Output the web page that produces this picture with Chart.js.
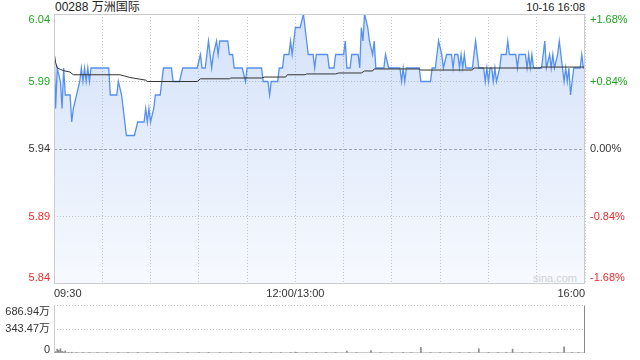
<!DOCTYPE html>
<html><head><meta charset="utf-8">
<script src="https://cdn.jsdelivr.net/npm/chart.js@4/dist/chart.umd.min.js"></script>
<style>
html,body{margin:0;padding:0;background:#fff;width:640px;height:360px;overflow:hidden;font-family:"Liberation Sans",Arial,"Noto Sans CJK SC",sans-serif;}
#title{position:absolute;left:55px;top:0px;font-size:12px;color:#222;line-height:15px;white-space:nowrap;}
#stamp{position:absolute;right:55px;top:0px;font-size:11px;color:#222;line-height:15px;white-space:nowrap;}
#mark{position:absolute;left:533px;top:271px;font-size:11px;color:#d6d6d6;line-height:14px;}
#c1{position:absolute;left:0;top:0;}
#c2{position:absolute;left:0;top:298px;}
</style></head><body>
<div id="title"></div>
<div id="stamp"></div>
<div id="mark">sina.com</div>
<canvas id="c1" width="640" height="300"></canvas>
<canvas id="c2" width="640" height="62"></canvas>
<script>
const stockName = '00288 万洲国际';
const stampText = '10-16 16:08';
const prevClose = 5.94;
const priceMin = 5.84, priceMax = 6.04;
const priceTicks = [5.84, 5.89, 5.94, 5.99, 6.04];
const priceTickLabels = ['5.84', '5.89', '5.94', '5.99', '6.04'];
const pctTickLabels = ['-1.68%', '-0.84%', '0.00%', '+0.84%', '+1.68%'];
const timeGrid = [0, 30, 60, 90, 120, 150, 180, 210, 240, 270, 300, 330];
const timeLabelMinutes = [0, 150, 330];
const timeLabels = ['09:30', '12:00/13:00', '16:00'];

// minutes since 09:30 (lunch break removed) and last price
const priceMinutes = [
  0,1,2,4,5,6,7,10,11,12,
  14,16,17,18,19,20,21,22,23,34,
  35,39,40,42,43,45,50,52,56,57,
  58,59,60,62,63,66,68,73,74,78,
  80,89,91,92,94,96,98,99,101,102,
  103,108,109,111,112,117,119,120,129,130,
  133,134,135,139,140,142,143,146,147,148,
  149,150,153,155,157,158,161,162,163,170,
  171,174,175,180,181,182,184,185,189,190,
  191,192,193,195,196,198,199,200,205,206,
  208,215,216,217,218,219,227,228,234,235,
  237,238,239,241,242,244,247,248,249,251,
  252,253,254,255,256,260,261,262,264,267,
  268,269,270,271,272,273,274,275,277,278,
  281,282,283,287,288,289,293,294,295,296,
  297,298,303,304,305,306,308,309,310,311,
  313,314,316,317,318,319,320,321,323,327,
  328,329,330];
const prices = [
  6.02,5.97,6.00,5.99,5.97,6.00,5.98,5.98,5.96,5.97,
  5.98,5.99,6.00,5.99,6.00,5.99,6.00,5.99,6.00,6.00,
  5.98,5.98,5.99,5.98,5.97,5.95,5.95,5.96,5.96,5.97,
  5.96,5.97,5.96,5.97,5.98,5.98,6.00,6.00,5.99,5.99,
  6.00,6.00,6.01,6.00,6.00,6.02,6.00,6.01,6.02,6.01,
  6.02,6.02,6.01,6.01,6.00,6.00,5.99,6.00,6.00,5.99,
  5.99,5.98,5.99,5.99,6.00,6.00,6.01,6.01,6.02,6.01,
  6.02,6.03,6.03,6.04,6.02,6.01,6.01,6.00,6.01,6.01,
  6.00,6.00,6.01,6.01,6.02,6.00,6.00,6.01,6.01,6.00,
  6.03,6.02,6.04,6.03,6.02,6.01,6.02,6.00,6.00,6.01,
  6.00,6.00,5.99,6.00,5.99,6.00,6.00,5.99,5.99,6.00,
  6.00,6.01,6.02,6.01,6.00,6.01,6.01,6.00,6.01,6.01,
  6.00,6.01,6.00,6.01,6.00,6.00,6.01,6.02,6.00,6.00,
  5.99,6.00,5.99,6.00,6.00,5.99,6.00,5.99,6.00,6.01,
  6.01,6.02,6.01,6.01,6.00,6.01,6.01,6.00,6.01,6.00,
  6.01,6.00,6.00,6.01,6.02,6.00,6.01,6.00,6.01,6.00,
  6.01,6.02,6.00,5.99,6.00,5.99,6.00,5.98,6.00,6.00,
  6.01,6.00,6.00];

const avgMinutes = [0,1,2,4,6,10,12,41,44,47,57,58,89,91,109,110,129,131,144,145,156,157,175,177,191,193,198,199,227,228,260,261,302,303,330];
const avgPrices = [6.012,6.004,6.000,5.999,5.998,5.997,5.995,5.995,5.994,5.993,5.991,5.990,5.990,5.992,5.992,5.9926,5.9926,5.9933,5.9933,5.995,5.995,5.9956,5.9956,5.9963,5.9963,5.9978,5.9978,5.9993,5.9993,5.9985,5.9985,6.000,6.000,6.0007,6.0007];

// volume in 万 shares
const volMinutes = [0,1,2,3,4,5,6,7,9,11,14,18,22,27,33,40,46,52,58,64,70,77,83,90,96,103,110,116,122,128,135,141,147,150,151,157,163,169,175,182,188,197,203,210,217,222,228,234,240,246,252,258,264,270,276,281,285,291,296,302,308,313,317,322,326,330];
const volumes = [45,20,55,40,60,25,15,30,10,12,8,10,9,8,10,9,8,10,8,9,8,10,8,9,10,8,9,8,10,9,8,10,9,12,8,10,9,8,9,28,10,35,9,8,9,8,80,9,8,10,9,8,60,9,8,10,55,9,8,10,9,8,90,9,10,45];
const volTicks = [0, 343.47, 686.94];
const volTickLabels = ['0', '343.47万', '686.94万'];
const volMax = 686.94;

document.getElementById('title').textContent = stockName;
document.getElementById('stamp').textContent = stampText;

const FONT = '"Liberation Sans", Arial, "Noto Sans CJK SC", sans-serif';
const GREEN = '#1ea51e', RED = '#ee2b2b', DARK = '#333333', GRID = '#c8c8c8';
Chart.defaults.font.family = FONT;
Chart.defaults.font.size = 11;
Chart.defaults.color = DARK;

const near = (a, b) => Math.abs(a - b) < 1e-6;
function tickColor(v) { return v > prevClose + 1e-6 ? GREEN : (v < prevClose - 1e-6 ? RED : DARK); }
function edgeLabel(v, label, lo, hi) {
  if (near(v, hi)) return ['', label];
  if (near(v, lo)) return [label, ''];
  return label;
}
function zeroPad(s) { s.paddingTop = 0; s.paddingBottom = 0; s.paddingLeft = 0; s.paddingRight = 0; }

const framePlugin = {
  id: 'frame',
  beforeDatasetsDraw(chart) {
    const { ctx, chartArea: a, scales } = chart;
    const y = Math.round(scales.y.getPixelForValue(prevClose)) + 0.5;
    ctx.save();
    ctx.strokeStyle = '#aaaaaa'; ctx.lineWidth = 1; ctx.setLineDash([3, 2]);
    ctx.beginPath(); ctx.moveTo(a.left, y); ctx.lineTo(a.right, y); ctx.stroke();
    ctx.restore();
  },
  afterDraw(chart) {
    const { ctx, chartArea: a } = chart;
    ctx.save();
    ctx.strokeStyle = '#cccccc'; ctx.lineWidth = 1;
    ctx.strokeRect(Math.round(a.left) + 0.5, Math.round(a.top) + 0.5, Math.round(a.right - a.left) - 1, Math.round(a.bottom - a.top) - 1);
    ctx.restore();
  }
};

new Chart(document.getElementById('c1'), {
  type: 'line',
  data: {
    datasets: [
      { label: '均价', data: avgMinutes.map((m, i) => ({ x: m, y: avgPrices[i] })),
        borderColor: '#333333', borderWidth: 1, pointRadius: 0, tension: 0, fill: false, order: 0 },
      { label: '价格', data: priceMinutes.map((m, i) => ({ x: m, y: prices[i] })),
        borderColor: '#5590ef', borderWidth: 1.3, pointRadius: 0, tension: 0, fill: 'start', order: 1,
        backgroundColor: (c) => {
          const a = c.chart.chartArea;
          if (!a) return 'rgba(98,148,235,0.15)';
          const g = c.chart.ctx.createLinearGradient(0, a.top, 0, a.bottom);
          g.addColorStop(0, 'rgba(98,148,235,0.28)');
          g.addColorStop(1, 'rgba(98,148,235,0.05)');
          return g;
        } }
    ]
  },
  options: {
    responsive: false, animation: false, devicePixelRatio: 1,
    layout: { padding: { top: 14, left: 0, right: 0, bottom: 0 } },
    plugins: { legend: { display: false }, tooltip: { enabled: false } },
    scales: {
      x: {
        type: 'linear', min: 0, max: 330, offset: false,
        afterBuildTicks: s => { s.ticks = timeGrid.map(v => ({ value: v })); },
        afterFit: s => { s.height = 16; zeroPad(s); },
        ticks: { autoSkip: false, maxRotation: 0, minRotation: 0, align: 'inner', padding: 3, color: DARK,
          callback: v => { const i = timeLabelMinutes.indexOf(v); return i >= 0 ? timeLabels[i] : ''; } },
        grid: { drawTicks: false, color: GRID, lineWidth: 1 },
        border: { display: false, dash: [1, 2] }
      },
      y: {
        position: 'left', min: priceMin, max: priceMax,
        afterBuildTicks: s => { s.ticks = priceTicks.map(v => ({ value: v })); },
        afterFit: s => { s.width = 54; zeroPad(s); },
        ticks: { autoSkip: false, padding: 4, color: c => tickColor(c.tick.value),
          font: { size: 11, family: FONT, lineHeight: '12px' },
          callback: v => { const i = priceTicks.findIndex(t => near(t, v)); return edgeLabel(v, priceTickLabels[i], priceMin, priceMax); } },
        grid: { drawTicks: false, color: c => (c.tick && (near(c.tick.value, 5.99) || near(c.tick.value, 5.89))) ? GRID : 'rgba(0,0,0,0)' },
        border: { display: false, dash: [1, 2] }
      },
      y2: {
        position: 'right', min: priceMin, max: priceMax,
        afterBuildTicks: s => { s.ticks = priceTicks.map(v => ({ value: v })); },
        afterFit: s => { s.width = 55; zeroPad(s); },
        ticks: { autoSkip: false, padding: 5, color: c => tickColor(c.tick.value),
          font: { size: 11, family: FONT, lineHeight: '12px' },
          callback: v => { const i = priceTicks.findIndex(t => near(t, v)); return edgeLabel(v, pctTickLabels[i], priceMin, priceMax); } },
        grid: { display: false, drawTicks: false },
        border: { display: false }
      }
    }
  },
  plugins: [framePlugin]
});

const volFrame = {
  id: 'volFrame',
  afterDraw(chart) {
    const { ctx, chartArea: a } = chart;
    const L = Math.round(a.left) + 0.5, R = Math.round(a.right) - 0.5, T = Math.round(a.top) + 0.5, B = Math.round(a.bottom) - 0.5;
    ctx.save();
    ctx.lineWidth = 1;
    ctx.strokeStyle = '#cccccc';
    ctx.beginPath(); ctx.moveTo(L, T); ctx.lineTo(L, B + 0.5); ctx.stroke();
    ctx.strokeStyle = '#888888';
    ctx.beginPath(); ctx.moveTo(R, T); ctx.lineTo(R, B + 0.5); ctx.stroke();
    ctx.strokeStyle = '#999999'; ctx.setLineDash([1, 1]);
    ctx.beginPath(); ctx.moveTo(L, B); ctx.lineTo(R, B); ctx.stroke();
    ctx.restore();
  }
};

new Chart(document.getElementById('c2'), {
  type: 'bar',
  data: {
    datasets: [{ label: '成交量', data: volMinutes.map((m, i) => ({ x: m, y: volumes[i] })),
      backgroundColor: '#8a8a8a', barThickness: 1, borderWidth: 0 }]
  },
  options: {
    responsive: false, animation: false, devicePixelRatio: 1,
    layout: { padding: { top: 7, left: 0, right: 55, bottom: 7 } },
    plugins: { legend: { display: false }, tooltip: { enabled: false } },
    scales: {
      x: { type: 'linear', min: 0, max: 330, offset: false, display: false },
      y: {
        position: 'left', min: 0, max: volMax,
        afterBuildTicks: s => { s.ticks = volTicks.map(v => ({ value: v })); },
        afterFit: s => { s.width = 54; zeroPad(s); },
        ticks: { autoSkip: false, padding: 4, color: DARK,
          font: c => ({ size: 11, family: FONT, lineHeight: (c.tick && near(c.tick.value, 0)) ? '6px' : '14px' }),
          callback: v => { const i = volTicks.findIndex(t => near(t, v)); return edgeLabel(v, volTickLabels[i], 0, volMax); } },
        grid: { drawTicks: false, color: c => (c.tick && c.tick.value > 0) ? GRID : 'rgba(0,0,0,0)' },
        border: { display: false, dash: [1, 2] }
      }
    }
  },
  plugins: [volFrame]
});
</script>
</body></html>
